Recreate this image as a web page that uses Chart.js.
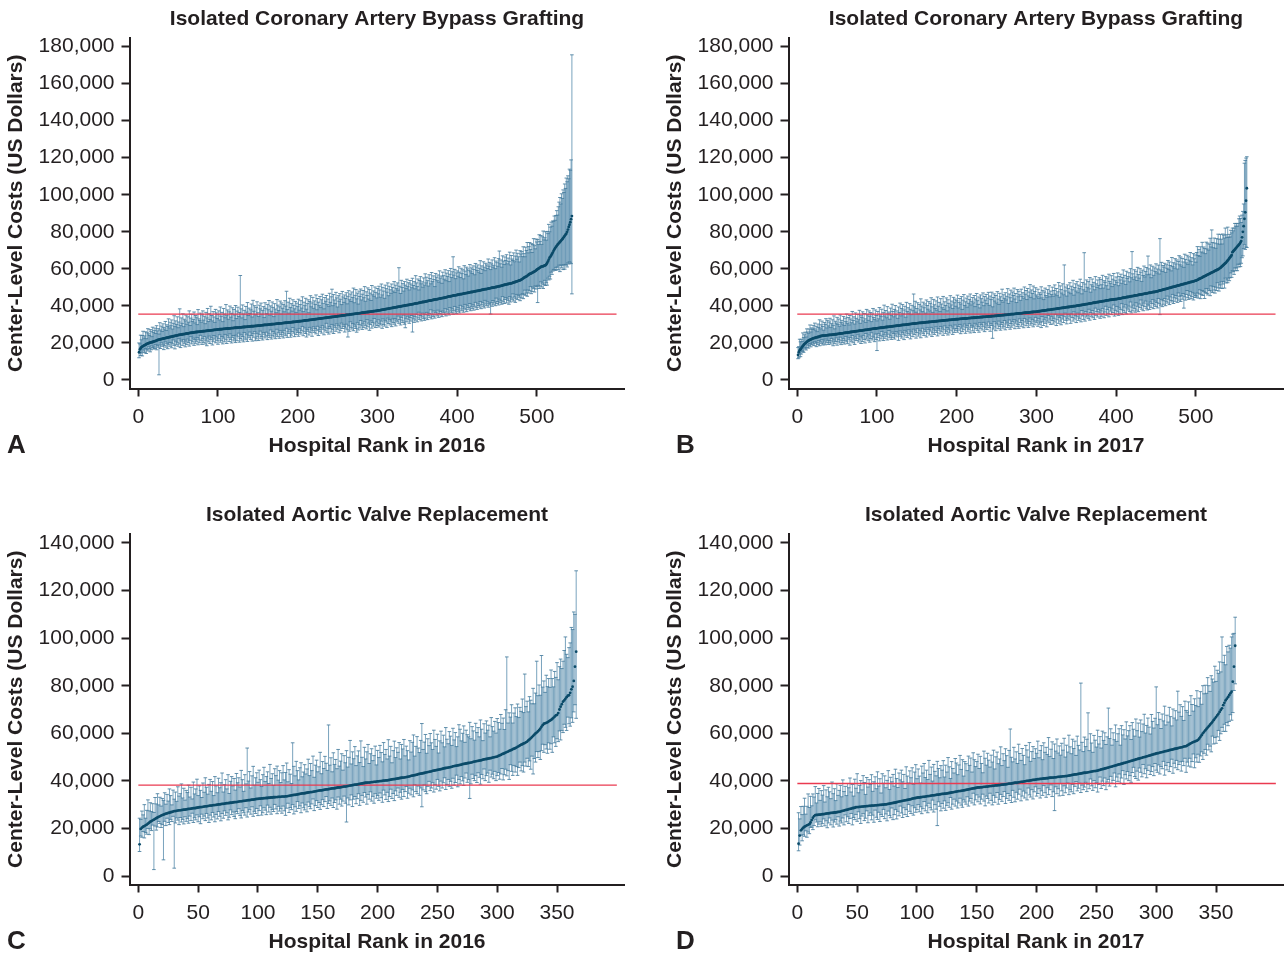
<!DOCTYPE html>
<html lang="en">
<head>
<meta charset="utf-8">
<title>Center-Level Costs by Hospital Rank</title>
<script src="https://cdn.jsdelivr.net/npm/chart.js@4.4.1/dist/chart.umd.min.js"></script>
<style>
  html, body { margin: 0; padding: 0; background: #ffffff; }
  #page { position: relative; width: 1288px; height: 960px; overflow: hidden; }
  canvas { position: absolute; }
</style>
</head>
<body>
<div id="page">
  <canvas id="panelA" width="659" height="480" style="left:0px;top:0px"></canvas>
  <canvas id="panelB" width="629" height="480" style="left:659px;top:0px"></canvas>
  <canvas id="panelC" width="659" height="464" style="left:0px;top:496px"></canvas>
  <canvas id="panelD" width="629" height="464" style="left:659px;top:496px"></canvas>
</div>
<script>
// Hospitals are listed in rank order (rank = index + 1).
// *Mid arrays: center-level cost, hundreds of US dollars.
// *Up / *Down arrays: upper / lower interval length, thousands of US dollars.

// ---------- Isolated CABG, 2016 ----------
const cabg2016Mid = [
150,165,172,177,180,183,186,188,190,193,
195,197,199,200,202,203,204,205,207,208,210,211,213,215,217,
218,219,220,221,222,223,224,225,226,227,228,229,230,231,232,233,234,235,236,237,238,239,240,241,242,
243,244,245,245,246,247,248,248,249,250,251,251,252,253,254,254,255,256,256,257,258,258,259,259,260,
260,261,261,262,262,263,263,264,264,265,265,266,266,267,267,268,268,269,269,270,271,271,272,272,273,
273,274,274,274,275,275,276,276,276,277,277,278,278,278,279,279,280,280,280,281,281,282,282,282,283,283,284,284,284,285,285,286,286,286,287,287,288,288,288,289,289,290,290,290,291,291,292,292,292,293,
293,294,294,295,295,296,296,297,297,297,298,298,299,299,300,300,301,301,302,302,302,303,303,304,304,305,305,306,306,306,307,307,308,308,309,309,310,310,311,311,311,312,312,313,313,314,314,315,315,316,
316,317,317,318,318,319,319,320,321,321,322,322,323,323,324,325,325,326,326,327,327,328,329,329,330,330,331,331,332,333,333,334,334,335,335,336,337,337,338,338,339,339,340,341,341,342,342,343,343,344,
345,345,346,346,347,348,348,349,349,350,351,351,352,352,353,354,354,355,355,356,357,357,358,358,359,360,360,361,361,362,363,363,364,364,365,366,366,367,367,368,369,369,370,370,371,372,372,373,373,374,
375,376,376,377,378,379,380,380,381,382,383,384,384,385,386,387,388,388,389,390,391,392,392,393,394,395,396,396,397,398,399,400,400,401,402,403,404,404,405,406,407,408,408,409,410,
411,412,413,414,414,415,416,417,418,419,420,421,421,422,423,424,425,426,427,428,428,429,430,431,432,433,434,435,435,436,437,438,439,440,441,442,442,443,444,445,446,447,449,
450,451,451,452,453,454,455,456,457,457,458,459,460,461,462,463,463,464,465,466,467,468,469,469,470,471,472,473,474,475,475,476,477,478,479,480,481,481,482,483,484,485,
486,487,488,489,490,490,491,492,493,494,495,496,497,498,499,499,500,501,502,503,
504,505,506,507,508,509,510,512,513,514,515,516,517,518,519,520,521,522,523,525,
526,528,529,531,532,534,535,537,538,540,
543,546,549,552,555,557,559,562,566,570,
572,574,576,578,581,583,585,588,591,595,
598,601,604,607,610,612,613,614,616,618,620,625,
632,640,650,660,665,672,680,688,697,705,
712,718,724,730,735,740,745,750,755,760,766,772,778,784,790,800,
812,826,838,852,868,885
];
const cabg2016Up = [
5,3,7,4,6,8,4,5,7,3,6,8,5,4,7,6,3,8,5,6,
7,4,8,5,6,3,9,5,7,4,8,6,5,9,4,7,6,10,5,8,
6,9,4,7,11,5,8,6,10,4,7,14,5,9,6,11,4,8,7,10,
5,9,6,12,4,8,10,6,7,11,5,9,8,4,12,7,6,10,5,9,
11,6,8,4,10,7,12,5,9,6,13,8,5,10,7,4,11,9,6,8,
10,5,12,7,9,4,11,8,6,13,7,10,5,9,12,6,8,11,4,10,
7,12,5,9,11,6,8,28,10,5,12,7,9,4,11,8,13,6,10,7,
9,12,5,14,8,11,6,10,13,7,5,11,9,12,6,8,10,4,12,9,
6,11,8,13,5,10,7,12,9,4,11,8,6,13,10,7,9,12,5,11,
8,10,6,12,9,17,7,11,5,13,8,10,6,12,9,7,11,5,10,8,
12,6,9,11,7,13,5,10,8,12,6,9,11,4,10,13,7,9,12,6,
10,8,13,5,11,9,7,12,6,10,13,8,5,11,9,12,7,10,6,13,
8,11,15,6,12,9,7,13,10,5,11,8,12,9,6,13,10,7,11,9,
12,6,10,13,8,11,7,12,9,14,6,10,13,8,11,5,12,9,13,7,
10,12,8,14,6,11,9,13,7,12,10,6,14,9,11,8,13,10,7,12,
9,13,11,7,14,8,12,10,6,13,11,9,14,7,12,10,8,13,11,9,
14,8,12,10,13,9,21,11,7,14,10,12,8,13,11,9,14,10,12,8,
13,11,9,14,10,12,8,15,11,9,13,7,12,14,10,11,8,13,9,15,
10,13,11,8,14,12,9,15,10,13,11,7,14,12,10,13,9,15,11,12,
8,14,12,10,15,9,13,11,14,8,12,15,10,13,21,11,14,9,12,13,
10,15,12,9,14,11,13,8,15,12,10,14,13,9,12,15,11,13,10,14,
12,9,15,13,11,14,10,12,16,9,13,11,15,12,10,14,13,11,16,12,
14,10,13,15,11,12,16,10,14,13,11,15,19,12,14,10,16,13,11,15,
13,16,11,14,12,17,10,15,13,12,16,11,14,17,12,15,13,10,16,14,
15,12,17,13,11,16,14,18,12,15,17,13,16,11,15,18,14,12,17,15,
16,13,18,14,17,12,16,19,14,15,18,13,17,15,19,14,16,18,15,17,
16,18,15,17,19,16,20,22,24,20,25,22,26,24,28,25,30,27,29,26,
30,28,32,87
];
const cabg2016Down = [
3,2,4,3,5,2,3,4,2,5,3,4,2,3,5,4,2,3,4,3,
4,2,5,3,4,19,3,5,2,4,3,6,4,2,5,3,6,4,3,5,
3,6,4,2,5,7,3,5,4,6,2,5,7,3,4,6,3,5,7,4,
6,3,5,7,4,2,6,5,3,7,4,6,5,3,7,4,6,2,5,7,
4,6,3,7,5,8,4,6,3,7,5,4,8,6,3,5,7,4,6,8,
5,3,7,6,4,8,5,7,3,6,8,4,5,7,3,6,8,5,4,7,
6,8,4,7,5,3,8,6,4,7,5,8,3,6,7,4,8,5,6,3,
7,5,8,4,6,3,8,7,4,6,8,5,3,7,6,8,4,5,7,6,
4,8,6,5,7,3,8,6,4,7,5,8,6,3,7,5,8,4,6,7,
5,8,4,6,7,3,8,5,6,4,8,7,5,3,6,8,4,7,5,6,
8,4,6,7,5,3,8,6,4,7,9,5,6,8,4,7,5,9,6,4,
7,5,8,6,4,9,6,7,5,8,4,6,9,5,7,3,8,6,9,5,
6,8,4,7,9,5,6,8,4,7,5,9,6,8,4,7,5,6,9,7,
5,8,12,6,9,4,7,8,5,9,6,7,8,10,5,9,6,8,4,7,
9,6,8,5,7,9,4,8,6,10,7,5,9,6,8,4,7,9,6,8,
5,9,7,8,6,10,5,8,9,6,7,10,5,8,6,9,7,10,6,8,
9,6,10,7,8,5,9,7,10,6,8,9,5,10,12,7,9,6,8,10,
7,9,6,15,8,10,7,9,6,10,8,5,9,7,10,8,6,9,10,7,
9,6,10,8,7,9,5,10,8,9,6,10,7,8,9,6,10,8,7,9,
10,7,8,9,6,10,8,7,9,10,6,8,9,7,10,8,6,9,10,8,
7,9,10,6,8,9,7,10,8,6,9,10,7,8,9,6,10,8,9,7,
10,8,6,9,10,7,8,9,6,10,8,7,9,10,6,8,9,7,10,8,
9,14,8,10,7,9,8,10,6,9,8,10,7,9,8,10,6,9,10,8,
7,10,8,9,11,7,10,8,9,6,10,8,11,9,7,10,8,9,11,8,
10,8,11,9,7,10,9,11,8,10,9,7,11,10,8,9,11,8,10,9,
18,9,11,10,8,11,9,12,10,8,11,10,12,9,11,10,12,9,11,10,
10,11,12,11,13,12,14,12,16,13,15,14,17,15,18,16,17,19,18,20,
20,22,24,42
];

// ---------- Isolated CABG, 2017 ----------
const cabg2017Mid = [
135,150,160,166,170,178,184,189,194,198,
202,206,209,212,215,217,219,221,223,225,
226,227,229,230,231,232,233,235,236,238,
238,239,239,240,240,241,241,242,242,243,243,244,244,245,245,246,246,247,247,248,
249,249,250,251,251,252,252,253,254,254,255,256,256,257,257,258,259,259,260,261,261,262,262,263,264,264,265,266,266,267,267,268,269,269,270,271,271,272,272,273,274,274,275,276,276,277,277,278,278,279,
280,280,281,281,282,282,283,283,284,285,285,286,286,287,287,288,288,289,289,290,291,291,292,292,293,293,294,294,295,296,296,297,297,298,298,299,299,300,300,301,302,302,303,303,304,304,305,305,306,306,
307,307,308,308,308,309,309,310,310,311,311,312,312,312,313,313,314,314,315,315,315,316,316,317,317,318,318,319,319,319,320,320,321,321,322,322,323,323,323,324,324,325,325,326,326,326,327,327,328,328,
328,329,329,330,330,330,331,331,331,332,332,332,333,333,334,334,334,335,335,335,336,336,336,337,337,338,338,338,339,339,339,340,340,341,341,341,342,342,342,343,343,343,344,344,345,345,345,346,346,346,
347,347,348,348,349,349,350,350,350,351,351,352,352,353,353,354,354,355,355,355,356,356,357,357,358,358,359,359,360,360,360,361,361,362,362,363,363,364,364,364,365,365,366,366,367,367,368,368,368,369,
369,370,371,371,372,373,373,374,374,375,376,376,377,378,378,379,379,380,381,381,382,383,383,384,384,385,386,386,387,388,388,389,389,390,391,391,392,393,393,394,394,395,396,396,397,398,398,399,399,400,
401,401,402,403,404,404,405,406,407,407,408,409,410,410,411,412,413,414,414,415,416,417,417,418,419,420,420,421,422,423,423,424,425,426,426,427,428,429,430,430,431,432,432,433,434,434,435,435,436,436,
437,438,439,439,440,441,442,443,444,444,445,446,447,448,448,449,450,451,452,453,453,454,455,456,457,457,458,459,460,461,462,462,463,464,465,466,466,467,468,469,470,471,471,472,473,474,475,475,476,477,
478,479,480,482,483,484,485,486,488,489,490,491,492,493,495,496,497,498,499,501,502,503,504,505,506,508,509,510,511,512,514,515,516,517,518,519,521,522,523,524,525,527,528,529,530,531,532,534,535,536,
538,540,542,545,547,549,551,553,556,558,560,562,564,567,569,571,573,575,578,580,582,584,586,589,591,593,595,597,600,603,
606,610,614,618,622,626,630,634,640,645,650,656,662,668,674,
690,695,700,705,710,715,720,725,730,735,742,750,770,800,830,870,905,968,1035
];
const cabg2017Up = [
4,3,6,4,5,3,7,4,5,6,3,7,5,4,6,8,4,6,5,7,
5,8,4,6,3,7,5,9,4,6,8,5,3,7,6,9,4,8,5,7,
9,4,6,8,5,10,3,7,6,9,5,8,4,10,6,7,5,9,4,8,
6,10,5,8,4,9,7,5,11,6,8,4,10,7,5,9,6,11,4,8,
7,10,5,9,6,4,11,8,5,10,7,9,4,8,11,6,5,10,7,4,
9,5,11,7,6,10,4,8,12,6,9,5,11,7,8,4,10,6,12,8,
5,9,11,6,8,4,10,7,12,5,9,11,6,8,10,4,12,7,9,6,
11,8,5,10,7,16,9,12,6,8,11,5,10,7,13,9,6,11,8,10,
5,12,9,7,11,6,10,13,8,5,12,9,7,11,6,13,8,10,5,12,
9,7,13,6,10,8,12,5,11,9,7,13,8,10,6,12,9,11,7,10,
13,6,9,11,8,12,5,10,13,7,9,11,6,12,8,10,13,7,9,11,
8,12,6,10,13,9,7,11,5,12,10,8,13,6,11,9,12,7,10,13,
6,11,9,13,5,10,12,8,11,7,13,9,6,12,10,8,14,7,11,9,
12,8,10,14,6,11,9,13,7,12,10,14,8,11,6,13,9,12,10,7,
13,9,11,8,14,10,12,7,13,9,11,15,8,12,10,14,7,11,13,9,
8,12,7,10,9,13,7,11,6,10,12,8,7,11,9,13,7,10,8,12,
7,10,13,8,11,7,9,14,6,12,10,8,13,7,23,9,11,6,12,10,
8,13,7,11,9,14,6,10,12,8,13,7,11,9,14,10,6,12,8,28,
11,7,13,9,12,8,14,6,10,13,9,11,7,14,10,8,12,9,13,7,
12,9,14,7,11,10,13,8,12,6,14,10,9,13,7,11,14,8,10,12,
9,14,7,12,10,13,8,11,15,9,12,7,14,10,11,13,8,15,10,24,
12,9,14,10,13,8,15,11,9,14,12,7,13,10,15,9,12,14,10,20,
13,10,15,8,12,14,9,13,11,15,10,12,14,9,28,11,15,10,13,12,
14,9,13,11,15,10,14,12,9,16,11,13,10,15,12,14,9,13,16,11,
15,10,14,12,9,16,13,11,15,10,14,12,16,11,13,9,15,12,14,10,
15,18,13,16,12,17,14,19,13,16,15,12,18,14,17,13,16,19,14,23,
16,13,18,15,12,17,14,19,16,13,18,15,12,17,16,14,19,15,13,18,
12,13,11,14,12,13,11,12,14,12,13,11,12,14,15,13,10,12,11,12,
30,28,23,17
];
const cabg2017Down = [
2,3,2,4,3,2,3,4,2,3,4,3,2,4,3,2,4,3,2,3,
4,2,3,5,3,4,2,5,3,4,2,5,4,3,5,2,4,3,5,4,
3,5,2,4,6,3,5,4,2,6,4,3,5,2,6,4,5,3,6,4,
2,5,6,3,4,7,3,5,2,6,4,7,3,5,4,2,6,5,3,7,
4,6,3,5,7,2,5,4,6,3,7,5,2,6,4,5,7,3,6,12,
5,3,7,4,6,2,5,7,4,6,3,5,7,4,2,6,5,7,3,6,
4,7,5,3,6,4,8,5,3,6,7,4,5,8,3,6,4,7,5,3,
6,8,4,5,7,3,6,4,8,5,3,7,6,4,8,5,3,6,7,4,
5,8,3,6,4,7,5,3,8,6,4,7,5,3,6,8,4,5,7,3,
6,4,8,5,3,7,6,4,8,5,7,3,6,4,8,5,7,3,6,5,
7,4,6,3,8,5,7,4,6,3,8,5,4,7,6,3,8,5,4,7,
5,8,3,6,4,7,5,8,3,6,4,7,5,3,8,6,4,7,5,3,
6,8,4,5,12,7,3,6,8,4,5,7,3,6,8,5,4,7,6,3,
8,5,4,7,6,3,8,5,7,4,6,3,8,5,4,7,6,8,3,5,
7,4,6,8,3,5,7,4,6,8,5,3,7,6,4,8,5,7,3,6,
5,8,4,7,6,9,3,6,8,5,7,4,9,6,3,7,5,8,4,6,
8,5,7,3,9,6,4,8,5,7,9,4,6,8,5,3,7,9,6,4,
7,5,9,4,6,8,3,7,5,9,6,4,8,7,5,9,3,6,8,5,
9,4,7,6,8,3,9,5,7,4,8,6,9,3,7,5,8,4,6,9,
5,8,4,7,9,6,3,8,5,7,9,4,6,8,5,7,3,9,6,8,
4,7,9,5,8,6,3,9,7,5,8,4,9,6,7,5,8,3,9,6,
8,5,7,9,4,8,6,9,5,7,3,8,6,9,5,7,4,8,9,6,
7,9,5,8,6,4,9,7,5,8,6,9,4,7,13,8,5,9,6,8,
5,9,7,4,8,6,9,5,7,8,4,9,6,8,5,7,9,4,8,6,
9,6,8,5,13,7,9,6,4,8,9,7,5,9,8,6,10,7,9,8,
9,7,10,8,6,11,9,7,10,8,12,9,7,10,11,8,9,12,7,10,
11,8,10,12,9,11,7,10,12,9,11,8,12,10,9,13,8,11,10,12,
10,12,11,9,12,10,11,13,10,12,11,13,10,12,11,13,12,11,13,12,
14,20,25,32
];

// ---------- Isolated AVR, 2016 ----------
const avr2016Mid = [
133,198,203,207,210,213,216,220,224,228,
231,234,237,240,243,246,249,251,254,256,
258,260,262,263,265,266,268,269,271,273,
273,274,275,276,276,277,278,279,279,280,281,282,282,283,284,285,285,286,287,288,
289,290,290,291,292,293,293,294,295,296,296,297,298,298,299,300,301,301,302,303,303,304,305,306,306,
307,308,308,309,310,311,311,312,313,314,314,315,316,316,317,318,319,319,320,321,321,322,323,324,324,
325,325,326,326,327,327,328,328,329,329,330,330,331,331,332,332,333,333,333,334,334,334,335,335,336,
337,338,339,340,341,341,342,343,344,345,346,347,347,348,349,350,351,352,353,353,354,355,356,357,358,
359,360,360,361,362,363,364,364,365,366,367,368,368,369,370,371,372,372,373,374,375,376,376,377,378,
379,380,381,382,383,384,384,385,386,387,388,389,390,391,392,
392,393,393,394,395,395,396,396,397,398,398,399,399,400,401,401,402,402,403,404,
405,406,407,407,408,409,410,411,412,413,414,414,415,416,417,
418,419,421,422,423,424,425,426,428,429,430,431,432,433,435,436,437,438,439,440,442,443,444,445,446,
447,448,449,450,452,453,454,455,456,457,458,459,461,462,463,464,465,466,467,468,470,471,472,473,474,
475,476,477,478,480,481,482,483,484,485,486,487,489,490,491,492,493,494,495,496,498,499,500,501,502,
505,507,509,512,514,516,519,521,523,526,528,530,533,535,537,
540,543,546,549,552,554,557,559,562,565,
570,574,579,584,589,594,599,603,608,613,
620,627,634,640,642,644,646,650,653,656,
660,665,670,675,677,685,700,712,722,733,
738,745,752,758,760,770,785,796,820,880,943
];
const avr2016Up = [
11,4,7,5,9,3,6,10,5,8,4,7,3,9,6,10,5,8,4,7,
6,9,4,8,5,10,7,3,9,5,8,4,10,6,7,11,5,9,4,8,
7,10,5,9,4,11,6,8,12,5,9,7,4,10,6,12,8,5,9,11,
6,10,4,12,8,5,11,7,9,13,5,8,10,6,12,4,9,11,7,10,
5,12,8,10,6,13,9,4,11,7,22,8,12,5,10,14,6,9,11,7,
12,8,5,10,13,7,9,11,6,14,8,10,5,12,9,13,7,11,6,10,
13,7,10,14,6,11,9,5,22,12,8,14,10,6,11,13,7,9,12,8,
10,14,7,12,9,15,6,11,13,8,10,16,7,12,9,14,11,8,27,10,
13,7,15,10,12,8,16,9,11,14,7,13,10,15,8,12,19,9,14,11,
16,8,12,14,9,18,11,7,15,10,13,16,8,12,14,9,11,15,7,13,
10,15,12,8,16,11,13,9,17,10,14,7,12,16,9,13,11,15,8,14,
12,16,9,13,11,7,15,10,14,17,8,12,16,11,9,14,21,10,13,16,
8,14,11,16,12,9,17,13,10,15,7,12,16,11,14,9,17,12,10,15,
13,9,16,11,14,8,12,17,15,10,13,16,9,14,12,11,17,10,15,13,
9,16,12,14,10,17,13,8,15,11,16,12,14,9,17,13,11,15,10,16,
14,11,17,13,15,10,18,40,12,16,14,19,11,15,17,13,18,12,16,14,
19,13,29,15,17,12,18,16,14,20,13,17,30,15,19,14,30,16,18,13,
20,15,18,14,21,17,13,19,16,22,14,18,20,15,17,21,26,18,16,20,
21,26,24,29,22,34
];
const avr2016Down = [
3,3,4,2,5,3,4,2,5,3,4,2,21,3,5,4,2,3,5,4,
19,3,5,2,4,5,3,4,2,24,5,3,4,6,3,5,4,6,3,5,
4,6,3,5,2,6,4,5,3,6,4,7,3,5,4,6,3,5,7,4,
6,3,5,7,4,6,3,5,7,4,6,3,5,4,7,6,3,5,4,6,
7,4,5,3,6,7,4,5,6,3,7,5,4,6,3,7,5,6,4,7,
5,3,7,6,4,5,7,3,6,4,7,5,6,3,5,7,4,6,5,7,
4,6,8,5,3,7,5,6,4,8,5,7,3,6,5,8,4,6,7,5,
8,4,6,7,5,3,8,6,4,7,5,8,6,4,7,5,3,8,6,5,
7,4,8,6,5,9,4,7,5,8,6,4,7,15,5,8,6,4,9,6,
5,8,6,4,9,7,5,8,4,6,9,5,7,4,8,6,9,5,7,6,
8,5,7,9,4,6,8,5,9,7,4,8,6,9,5,7,4,8,6,9,
5,8,6,4,9,7,5,8,6,9,4,7,8,5,9,6,14,7,5,8,
9,6,4,8,7,5,9,6,8,4,7,9,5,8,6,4,9,7,5,8,
6,9,5,8,7,4,9,6,8,5,7,9,6,4,8,7,15,9,5,7,
8,6,9,5,7,10,6,8,4,9,7,6,10,5,8,7,9,6,10,8,
7,10,8,6,11,9,7,10,8,12,6,9,11,7,10,8,12,9,7,11,
9,12,8,10,7,11,9,13,8,16,10,12,8,11,9,13,10,8,12,9,
11,13,9,12,10,14,8,11,13,10,12,9,14,11,13,10,12,14,9,12,
14,12,15,13,16,28
];

// ---------- Isolated AVR, 2017 ----------
const avr2017Mid = [
136,170,192,198,203,207,210,213,215,218,
225,235,245,252,256,
257,257,258,258,259,260,260,261,262,263,
263,264,265,265,266,267,267,268,269,270,
271,273,274,275,277,278,279,281,282,283,285,286,287,289,290,
290,291,291,292,292,293,293,294,294,295,295,296,296,296,297,297,298,298,299,299,300,300,301,301,302,
303,304,305,306,307,308,309,310,312,313,314,315,316,317,318,319,320,321,322,323,325,326,327,328,329,
330,330,331,332,333,333,334,335,336,336,337,338,339,339,340,341,342,342,343,344,345,345,346,346,347,
348,349,350,351,352,353,354,355,356,357,357,358,359,360,361,362,363,364,365,366,367,368,369,370,371,
372,372,373,373,374,375,375,376,376,377,378,378,379,379,380,381,381,382,382,383,384,384,385,385,386,
387,388,388,389,390,391,392,392,393,394,395,396,396,397,398,399,400,400,401,402,403,404,404,405,406,
407,407,408,408,409,410,410,411,411,412,413,413,414,414,415,415,416,417,417,418,418,419,419,420,420,
421,422,423,424,425,426,427,427,428,429,430,431,432,433,434,434,435,436,437,438,439,440,441,441,442,
443,445,446,448,449,450,452,453,455,456,458,459,460,462,463,465,466,468,469,470,472,473,475,476,478,
479,481,482,484,485,487,488,490,491,493,494,496,497,499,500,501,503,504,506,507,509,510,512,513,515,
516,517,519,520,521,522,524,525,526,527,529,530,531,532,534,535,536,537,539,540,541,542,544,545,546,
549,552,555,558,561,563,565,567,569,572,
578,585,592,600,606,612,618,
624,630,636,642,648,655,662,668,
675,682,690,698,705,
718,728,738,745,752,760,768,775,817,880,968
];
const avr2017Up = [
13,7,10,6,9,12,5,8,13,7,11,6,10,8,12,5,9,11,6,10,
8,12,5,10,7,11,9,6,13,8,10,5,12,7,9,11,6,13,8,10,
6,11,9,13,7,10,5,12,8,14,6,9,11,7,13,10,5,12,8,11,
9,13,6,10,12,7,14,8,11,5,13,9,12,7,10,14,6,11,9,12,
7,14,10,6,12,9,13,8,11,5,14,10,7,12,9,13,6,11,14,8,
12,9,6,13,10,14,8,11,7,15,9,12,6,13,10,8,14,11,7,12,
10,14,7,12,9,15,11,6,13,10,8,14,12,7,11,15,9,13,6,12,
11,8,14,10,13,7,15,12,9,11,14,8,13,10,6,15,12,9,14,11,
8,13,10,15,7,12,14,9,11,16,8,13,10,15,12,7,14,23,11,9,
15,10,13,8,16,12,9,14,11,7,15,13,10,16,8,12,14,9,13,11,
16,9,12,14,8,15,11,13,10,17,9,12,15,8,14,11,16,10,13,9,
14,11,16,8,13,10,17,12,9,15,11,14,8,16,12,10,38,13,9,15,
11,14,25,9,16,12,8,15,13,10,17,11,14,9,16,12,15,10,13,25,
12,16,9,14,11,17,10,13,15,8,16,12,14,10,17,11,13,15,9,16,
13,10,17,12,15,9,16,11,14,18,10,13,16,12,9,17,14,11,15,28,
12,17,14,10,16,13,19,11,15,12,18,14,10,17,13,16,12,24,15,18,
13,17,11,19,15,14,18,12,20,16,13,18,15,21,14,17,19,13,20,16,
19,15,21,17,14,20,18,16,22,15,19,17,21,16,30,18,20,15,22,19,
21,19,23,20,14,12
];
const avr2017Down = [
3,4,2,5,3,4,2,5,3,4,2,3,5,4,2,3,5,4,3,5,
4,2,5,3,6,4,2,5,3,6,4,3,5,2,6,4,5,3,6,2,
5,3,6,4,2,7,4,5,3,6,2,5,7,4,3,6,5,2,7,4,
3,6,4,7,2,5,6,3,7,4,5,2,6,4,7,3,5,6,2,7,
5,3,7,4,6,2,5,7,3,6,4,7,2,5,6,3,7,4,6,5,
3,6,4,7,5,2,6,4,7,3,5,6,2,7,4,6,13,3,5,7,
4,6,3,7,5,4,6,2,7,5,3,6,4,7,5,3,6,7,4,5,
6,3,7,5,4,6,2,7,5,3,6,4,7,5,3,6,8,4,5,7,
3,6,8,4,7,5,3,8,6,4,7,5,3,8,6,4,7,5,8,3,
6,8,4,7,5,3,8,6,4,7,5,8,3,6,7,4,8,5,3,7,
6,4,8,5,7,3,6,8,4,7,5,3,8,6,14,4,7,5,8,3,
6,8,4,7,5,3,8,6,7,4,8,5,3,7,6,4,8,5,7,6,
4,8,5,7,3,6,8,4,7,5,9,6,3,8,5,7,4,9,6,5,
8,4,7,6,3,9,5,7,4,8,6,3,9,5,7,4,8,6,9,5,
3,7,8,5,9,4,6,8,3,7,5,9,6,4,8,7,5,9,4,7,
8,5,9,6,7,4,10,6,8,5,9,7,4,10,6,8,5,9,7,6,
10,6,8,5,11,7,9,6,10,8,5,11,7,9,6,10,8,7,11,9,
8,11,7,10,9,12,6,10,8,11,9,7,12,10,8,11,9,13,10,12,
11,9,12,13,10,16
];

// Overall average cost (US dollars) and the rank it is drawn out to.
const cabg2016Average = 35600;
const cabg2017Average = 35600;
const avr2016Average = 38200;
const avr2017Average = 38900;
const cabgAverageSpan = 600;
const avrAverageSpan = 400;

// Axis ticks
const cabgRankTicks = [0, 100, 200, 300, 400, 500];
const avrRankTicks = [0, 50, 100, 150, 200, 250, 300, 350];
const cabgCostTicks = [0, 20000, 40000, 60000, 80000, 100000, 120000, 140000, 160000, 180000];
const avrCostTicks = [0, 20000, 40000, 60000, 80000, 100000, 120000, 140000];

// ---------- drawing ----------
const INK = '#231f20';
const FONT = '"Liberation Sans", Arial, Helvetica, sans-serif';
Chart.defaults.font.family = FONT;
Chart.defaults.color = INK;

// Interval whiskers with end caps, one per hospital
function errorBarPlugin(mid, up, down) {
  return {
    id: 'errorBars',
    beforeDatasetsDraw(chart) {
      const { ctx, scales: { x, y } } = chart;
      const ends = [];
      ctx.save();
      ctx.lineWidth = 1;
      ctx.strokeStyle = 'rgba(88, 140, 173, 0.8)';
      ctx.beginPath();
      for (let i = 0; i < mid.length; i++) {
        if (up[i] === undefined || down[i] === undefined) continue;
        const px = x.getPixelForValue(i + 1);
        const top = y.getPixelForValue(mid[i] * 100 + up[i] * 1000);
        const bot = y.getPixelForValue(mid[i] * 100 - down[i] * 1000);
        ctx.moveTo(px, top); ctx.lineTo(px, bot);
        ends.push([px, top], [px, bot]);
      }
      ctx.stroke();
      // caps
      ctx.strokeStyle = 'rgba(70, 124, 158, 0.85)';
      ctx.beginPath();
      for (const [px, py] of ends) {
        ctx.moveTo(px - 1.8, py); ctx.lineTo(px + 1.8, py);
      }
      ctx.stroke();
      ctx.restore();
    }
  };
}

// Panel letter under the y axis
function letterPlugin(letter, lx) {
  return {
    id: 'panelLetter',
    afterDraw(chart) {
      const ctx = chart.ctx;
      ctx.save();
      ctx.font = 'bold 26px ' + FONT;
      ctx.fillStyle = INK;
      ctx.textBaseline = 'middle';
      ctx.textAlign = 'left';
      ctx.fillText(letter, lx, 446);
      ctx.restore();
    }
  };
}

function axisStyle() {
  return {
    grid: { display: true, drawOnChartArea: false, drawTicks: true, tickLength: 8, tickWidth: 2, tickColor: INK },
    border: { display: true, color: INK, width: 2 }
  };
}

function makePanel(id, p) {
  const points = p.mid.map((m, i) => ({ x: i + 1, y: m * 100 }));
  new Chart(document.getElementById(id), {
    type: 'scatter',
    data: {
      datasets: [
        { data: points, pointRadius: 1.4, pointBorderWidth: 0, pointBackgroundColor: '#0b4b69', order: 1 },
        { data: [{ x: 0, y: p.average }, { x: p.span, y: p.average }], showLine: true,
          borderColor: '#ea3a50', borderWidth: 1.3, pointRadius: 0, order: 2 }
      ]
    },
    options: {
      responsive: false,
      animation: false,
      events: [],
      layout: { padding: { left: 0, top: 0, right: p.padRight, bottom: p.padBottom } },
      plugins: {
        legend: { display: false },
        tooltip: { enabled: false },
        title: {
          display: true, text: p.title, fullSize: false, color: INK,
          font: { size: 21, weight: 'bold' }, padding: { top: 7, bottom: 5.8 }
        }
      },
      scales: {
        x: Object.assign(axisStyle(), {
          type: 'linear', bounds: 'data', min: p.xMin, max: p.xMax,
          afterBuildTicks: s => { s.ticks = p.rankTicks.map(v => ({ value: v })); },
          afterFit: s => { s.height = 72; },
          ticks: { autoSkip: false, maxRotation: 0, padding: 8, color: INK, font: { size: 21 } },
          title: { display: true, text: p.xTitle, color: INK, font: { size: 21, weight: 'bold' }, padding: { top: 0, bottom: 2 } }
        }),
        y: Object.assign(axisStyle(), {
          type: 'linear', bounds: 'data', min: p.yMin, max: p.yMax,
          afterBuildTicks: s => { s.ticks = p.costTicks.map(v => ({ value: v })); },
          afterFit: s => { s.width = 129.5; },
          ticks: { padding: 7, color: INK, font: { size: 21 }, callback: v => v.toLocaleString('en-US') },
          title: { display: true, text: 'Center-Level Costs (US Dollars)', color: INK, font: { size: 21, weight: 'bold' }, padding: { top: 4, bottom: 0 } }
        })
      }
    },
    plugins: [errorBarPlugin(p.mid, p.up, p.down), letterPlugin(p.letter, p.letterX)]
  });
}

const cabgTitle = 'Isolated Coronary Artery Bypass Grafting';
const avrTitle = 'Isolated Aortic Valve Replacement';

makePanel('panelA', {
  title: cabgTitle, xTitle: 'Hospital Rank in 2016', letter: 'A', letterX: 7,
  mid: cabg2016Mid, up: cabg2016Up, down: cabg2016Down,
  average: cabg2016Average, span: cabgAverageSpan,
  rankTicks: cabgRankTicks, costTicks: cabgCostTicks,
  xMin: -11, xMax: 610, yMin: -4590, yMax: 184590, padRight: 34.5, padBottom: 19.5
});
makePanel('panelB', {
  title: cabgTitle, xTitle: 'Hospital Rank in 2017', letter: 'B', letterX: 17,
  mid: cabg2017Mid, up: cabg2017Up, down: cabg2017Down,
  average: cabg2017Average, span: cabgAverageSpan,
  rankTicks: cabgRankTicks, costTicks: cabgCostTicks,
  xMin: -11, xMax: 610, yMin: -4590, yMax: 184590, padRight: 4.5, padBottom: 19.5
});
makePanel('panelC', {
  title: avrTitle, xTitle: 'Hospital Rank in 2016', letter: 'C', letterX: 7,
  mid: avr2016Mid, up: avr2016Up, down: avr2016Down,
  average: avr2016Average, span: avrAverageSpan,
  rankTicks: avrRankTicks, costTicks: avrCostTicks,
  xMin: -7.4, xMax: 406.4, yMin: -3570, yMax: 143780, padRight: 34.5, padBottom: 3.5
});
makePanel('panelD', {
  title: avrTitle, xTitle: 'Hospital Rank in 2017', letter: 'D', letterX: 17,
  mid: avr2017Mid, up: avr2017Up, down: avr2017Down,
  average: avr2017Average, span: avrAverageSpan,
  rankTicks: avrRankTicks, costTicks: avrCostTicks,
  xMin: -7.4, xMax: 406.4, yMin: -3570, yMax: 143780, padRight: 4.5, padBottom: 3.5
});
</script>
</body>
</html>
